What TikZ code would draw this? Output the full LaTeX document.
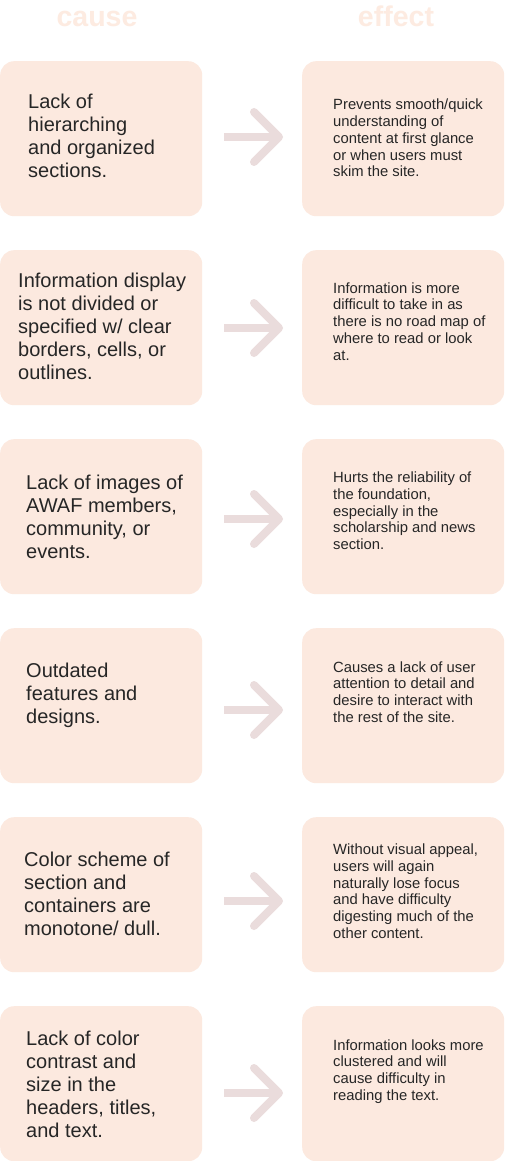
\documentclass[tikz,border=0pt]{standalone}
\usepackage{fontspec}
\setmainfont{Liberation Sans}
\definecolor{boxfill}{HTML}{FCE9DF}
\definecolor{arrowc}{HTML}{EADCDC}
\definecolor{headc}{HTML}{FDEBE1}
\definecolor{txt}{HTML}{262626}
\newcommand{\lefttxt}[1]{\parbox[t]{182pt}{\raggedright\fontsize{20}{23}\selectfont #1}}
\newcommand{\righttxt}[1]{\parbox[t]{165pt}{\raggedright\fontsize{14.8}{16.75}\selectfont #1}}
\begin{document}
\begin{tikzpicture}[x=1pt,y=-1pt,
  boxshape/.style={fill=boxfill, rounded corners=14pt, minimum width=202pt, minimum height=155pt, anchor=north west, inner sep=0pt},
  txtnode/.style={anchor=base west, inner sep=0pt, text=txt},
  headnode/.style={anchor=base, inner sep=0pt, text=headc, font=\bfseries\fontsize{28.5}{30}\selectfont},
  arrowline/.style={draw=arrowc, line width=8pt},
  arrowhd/.style={draw=arrowc, line width=8pt, line cap=round, line join=round}]
\fill[white] (0,0) rectangle (504,1161);
\useasboundingbox (0,0) rectangle (504,1161);

\node[headnode] (hc) at (97,27) {cause};
\node[headnode] (he) at (396,27) {effect};

% boxes
\foreach \i/\t in {1/61,2/250,3/439,4/628,5/817,6/1006}{
  \node[boxshape] (c\i) at (0,\t) {};
  \node[boxshape] (e\i) at (302,\t) {};
}

% arrows
\foreach \i/\y in {1/137,2/328,3/519,4/710,5/901,6/1093}{
  \coordinate (s\i) at (224,\y);
  \coordinate (t\i) at (279,\y);
  \draw[arrowline] (s\i) -- (t\i);
  \draw[arrowhd] ([shift={(-25,-25)}]t\i) -- (t\i) -- ([shift={(-25,25)}]t\i);
}

% cause texts
\node[txtnode] (ct1) at (28,109) {\lefttxt{Lack of\\hierarching\\and organized\\sections.}};
\node[txtnode] (ct2) at (18,287.7) {\lefttxt{Information display\\is not divided or\\specified w/ clear\\borders, cells, or\\outlines.}};
\node[txtnode] (ct3) at (26,489) {\lefttxt{Lack of images of\\AWAF members,\\community, or\\events.}};
\node[txtnode] (ct4) at (26,677.7) {\lefttxt{Outdated\\features and\\designs.}};
\node[txtnode] (ct5) at (24,866) {\lefttxt{Color scheme of\\section and\\containers are\\monotone/ dull.}};
\node[txtnode] (ct6) at (26,1045) {\lefttxt{Lack of color\\contrast and\\size in the\\headers, titles,\\and text.}};

% effect texts
\node[txtnode] (et1) at (333,110) {\righttxt{Prevents smooth/quick\\understanding of\\content at first glance\\or when users must\\skim the site.}};
\node[txtnode] (et2) at (333,293) {\righttxt{Information is more\\difficult to take in as\\there is no road map of\\where to read or look\\at.}};
\node[txtnode] (et3) at (333,482.7) {\righttxt{Hurts the reliability of\\the foundation,\\especially in the\\scholarship and news\\section.}};
\node[txtnode] (et4) at (333,672) {\righttxt{Causes a lack of user\\attention to detail and\\desire to interact with\\the rest of the site.}};
\node[txtnode] (et5) at (333,854.7) {\righttxt{Without visual appeal,\\users will again\\naturally lose focus\\and have difficulty\\digesting much of the\\other content.}};
\node[txtnode] (et6) at (333,1050) {\righttxt{Information looks more\\clustered and will\\cause difficulty in\\reading the text.}};
\end{tikzpicture}
\end{document}
